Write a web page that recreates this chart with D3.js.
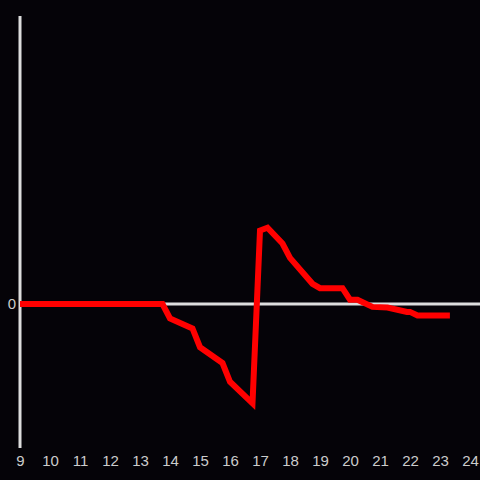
<!DOCTYPE html>
<html>
<head>
<meta charset="utf-8">
<script src="https://cdn.jsdelivr.net/npm/d3@7"></script>
<style>
  html, body {margin: 0; padding: 0; background: #050308;}
  text {font-family: "Liberation Sans", Arial, sans-serif;}
</style>
</head>
<body>
<div class="container"></div>
<script>
var width = 480;
var height = 480;

// hour of day and value at each visible vertex of the line
var hours = [9, 13.75, 14, 14.75, 15, 15.75, 16, 16.75, 17, 17.25, 17.75, 18, 18.75, 19, 19.75, 20, 20.25, 20.75, 21.25, 21.9, 22, 22.25, 23.33];
var values = [0, 0, -0.1, -0.17, -0.3, -0.41, -0.54, -0.69, 0.51, 0.53, 0.42, 0.32, 0.14, 0.11, 0.11, 0.03, 0.03, -0.02, -0.025, -0.055, -0.055, -0.08, -0.08];
var xTicks = [9, 10, 11, 12, 13, 14, 15, 16, 17, 18, 19, 20, 21, 22, 23, 24];
var yTicks = [0];

var xScale = d3.scaleLinear().domain([9, 24]).range([20, 470]);
var yScale = d3.scaleLinear().domain([-1, 2]).range([448, 16]);

var svg = d3.select(".container")
  .append("svg")
  .attr("width", width).attr("height", height)
  .style("display", "block")
  .style("background", "#050308");

// zero line
svg.append("line")
  .attr("x1", xScale(9)).attr("x2", width)
  .attr("y1", yScale(0)).attr("y2", yScale(0))
  .attr("stroke", "#dddddd").attr("stroke-width", 3);

// y axis line
svg.append("line")
  .attr("x1", xScale(9)).attr("x2", xScale(9))
  .attr("y1", yScale(2)).attr("y2", yScale(-1))
  .attr("stroke", "#dddddd").attr("stroke-width", 3);

var xAxis = d3.axisBottom(xScale).tickValues(xTicks).tickSize(0).tickPadding(0).tickFormat(d3.format("d"));
var gx = svg.append("g").attr("transform", "translate(0,466)").call(xAxis);
gx.select(".domain").remove();
gx.selectAll("text").attr("fill", "#cccccc").style("font-size", "15px").attr("dy", "0");

var yAxis = d3.axisLeft(yScale).tickValues(yTicks).tickSize(0).tickPadding(4).tickFormat(d3.format("d"));
var gy = svg.append("g").attr("transform", "translate(" + xScale(9) + ",0)").call(yAxis);
gy.select(".domain").remove();
gy.selectAll("text").attr("fill", "#cccccc").style("font-size", "15px");

var line = d3.line()
  .x((d, i) => xScale(hours[i]))
  .y((d) => yScale(d));

svg.append("path")
  .datum(values)
  .attr("d", line)
  .attr("fill", "none")
  .attr("stroke", "#ff0000")
  .attr("stroke-width", 6);
</script>
</body>
</html>
